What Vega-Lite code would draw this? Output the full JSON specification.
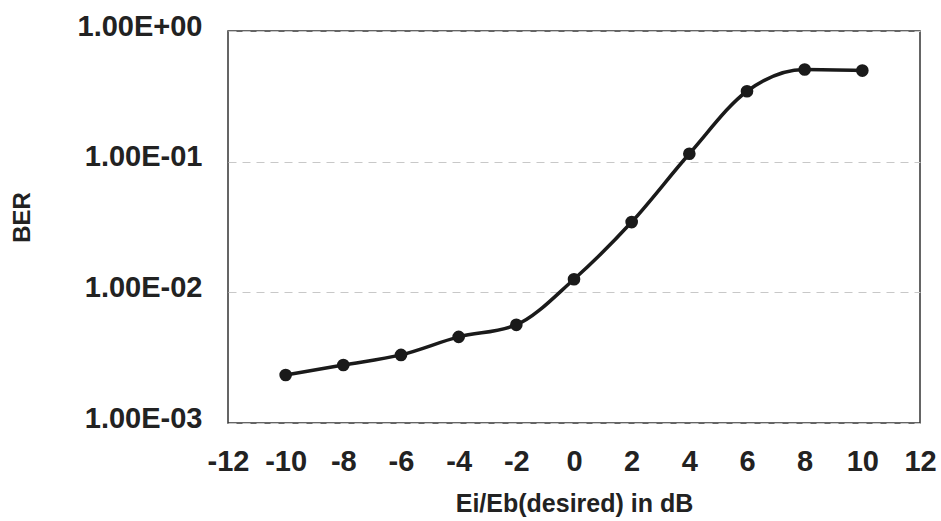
{
  "$schema": "https://vega.github.io/schema/vega-lite/v6.json",
  "width": 692,
  "height": 392,
  "autosize": {"type": "none"},
  "padding": {"left": 228, "top": 31, "right": 21, "bottom": 98},
  "background": "#ffffff",
  "config": {
    "view": {"stroke": "#333333", "strokeWidth": 1.5},
    "font": "Liberation Sans"
  },
  "data": {
    "values": [
      {"x": -10, "ber": 0.00233},
      {"x": -8, "ber": 0.00278},
      {"x": -6, "ber": 0.00332},
      {"x": -4, "ber": 0.00456},
      {"x": -2, "ber": 0.00564},
      {"x": 0, "ber": 0.0126},
      {"x": 2, "ber": 0.0345},
      {"x": 4, "ber": 0.115},
      {"x": 6, "ber": 0.346},
      {"x": 8, "ber": 0.507},
      {"x": 10, "ber": 0.498}
    ]
  },
  "encoding": {
    "x": {
      "field": "x",
      "type": "quantitative",
      "scale": {"domain": [-12, 12], "nice": false, "zero": false},
      "axis": {
        "values": [-12, -10, -8, -6, -4, -2, 0, 2, 4, 6, 8, 10, 12],
        "labelExpr": "'' + datum.value",
        "grid": false,
        "ticks": false,
        "domain": false,
        "labelFontSize": 29,
        "labelFontWeight": "bold",
        "labelColor": "#222222",
        "labelPadding": 24,
        "labelFlush": false,
        "labelOverlap": false,
        "title": "Ei/Eb(desired) in dB",
        "titleFontSize": 25,
        "titleFontWeight": "bold",
        "titleColor": "#222222",
        "titleX": 346,
        "titleY": 88,
        "titleAlign": "center",
        "titleBaseline": "alphabetic"
      }
    },
    "y": {
      "field": "ber",
      "type": "quantitative",
      "scale": {"type": "log", "domain": [0.001, 1], "nice": false},
      "axis": {
        "values": [0.001, 0.01, 0.1, 1],
        "labelExpr": "round(log(datum.value)/LN10) == 0 ? '1.00E+00' : '1.00E-0' + (-round(log(datum.value)/LN10))",
        "grid": true,
        "gridColor": "#c8c8c8",
        "gridDash": [8, 6],
        "gridWidth": 1,
        "ticks": false,
        "domain": false,
        "labelFontSize": 29,
        "labelFontWeight": "bold",
        "labelColor": "#222222",
        "labelPadding": 26,
        "labelOffset": -5,
        "labelFlush": false,
        "labelOverlap": false,
        "title": "BER",
        "titleFontSize": 24,
        "titleFontWeight": "bold",
        "titleColor": "#222222",
        "titleAngle": 270,
        "titleX": -194,
        "titleY": 186,
        "titleAlign": "center",
        "titleBaseline": "bottom"
      }
    }
  },
  "layer": [
    {"mark": {"type": "line", "interpolate": "monotone", "color": "#1a1a1a", "strokeWidth": 3.5}},
    {"mark": {"type": "point", "filled": true, "color": "#1a1a1a", "size": 160, "opacity": 1}}
  ]
}
